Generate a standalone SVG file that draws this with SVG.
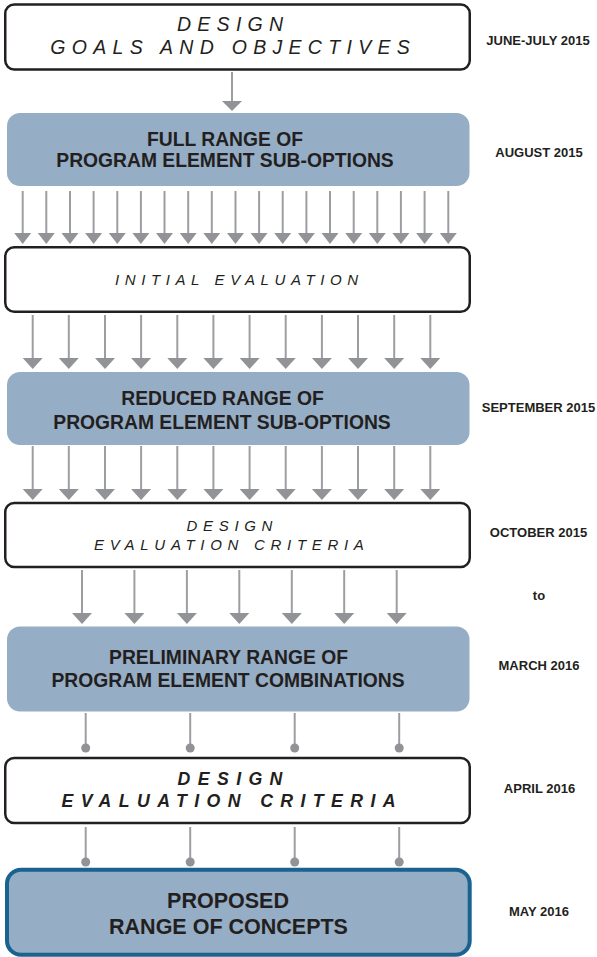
<svg xmlns="http://www.w3.org/2000/svg" width="597" height="957" viewBox="0 0 597 957">
<style>
.wbox{fill:#fff;stroke:#231f20;stroke-width:2.5}
.bbox{fill:#95adc5;stroke:none}
.fbox{fill:#95adc5;stroke:#1a6391;stroke-width:4}
.stem{stroke:#9d9ea2;stroke-width:2;fill:none}
.head{fill:#929397}
.dot{fill:#929397}
.it{font-family:"Liberation Sans",Arial,sans-serif;font-style:italic;fill:#231f20;text-anchor:middle}
.bt{font-family:"Liberation Sans",Arial,sans-serif;font-weight:bold;fill:#231f20;text-anchor:middle}
.dt{font-family:"Liberation Sans",Arial,sans-serif;font-weight:bold;font-size:13px;fill:#231f20;text-anchor:middle}
</style>
<defs>
<g id="a1"><line class="stem" x1="0" y1="0" x2="0" y2="30"/><polygon class="head" points="-10,29 10,29 0,39"/></g>
<g id="a2"><line class="stem" x1="0" y1="0" x2="0" y2="43"/><polygon class="head" points="-8.5,42 8.5,42 0,53"/></g>
<g id="a3"><line class="stem" x1="0" y1="0" x2="0" y2="44"/><polygon class="head" points="-10,43 10,43 0,54"/></g>
<g id="c1"><line class="stem" x1="0" y1="0" x2="0" y2="35"/><circle class="dot" cx="0" cy="35" r="4.5"/></g>
</defs>

<g id="connectors">
<use href="#a1" x="232" y="72"/>
<use href="#a2" x="22.7" y="191"/><use href="#a2" x="46.3" y="191"/><use href="#a2" x="70" y="191"/><use href="#a2" x="93.6" y="191"/><use href="#a2" x="117.3" y="191"/><use href="#a2" x="140.9" y="191"/><use href="#a2" x="164.5" y="191"/><use href="#a2" x="188.2" y="191"/><use href="#a2" x="211.8" y="191"/><use href="#a2" x="235.5" y="191"/><use href="#a2" x="259.1" y="191"/><use href="#a2" x="282.7" y="191"/><use href="#a2" x="306.4" y="191"/><use href="#a2" x="330" y="191"/><use href="#a2" x="353.7" y="191"/><use href="#a2" x="377.3" y="191"/><use href="#a2" x="400.9" y="191"/><use href="#a2" x="424.6" y="191"/><use href="#a2" x="448.3" y="191"/>
<use href="#a3" x="32.7" y="315"/><use href="#a3" x="68.8" y="315"/><use href="#a3" x="105" y="315"/><use href="#a3" x="141.1" y="315"/><use href="#a3" x="177.3" y="315"/><use href="#a3" x="213.4" y="315"/><use href="#a3" x="249.6" y="315"/><use href="#a3" x="285.7" y="315"/><use href="#a3" x="321.9" y="315"/><use href="#a3" x="358" y="315"/><use href="#a3" x="394.2" y="315"/><use href="#a3" x="430.3" y="315"/>
<use href="#a3" x="32.7" y="446"/><use href="#a3" x="68.8" y="446"/><use href="#a3" x="105" y="446"/><use href="#a3" x="141.1" y="446"/><use href="#a3" x="177.3" y="446"/><use href="#a3" x="213.4" y="446"/><use href="#a3" x="249.6" y="446"/><use href="#a3" x="285.7" y="446"/><use href="#a3" x="321.9" y="446"/><use href="#a3" x="358" y="446"/><use href="#a3" x="394.2" y="446"/><use href="#a3" x="430.3" y="446"/>
<use href="#a3" x="82" y="570"/><use href="#a3" x="134.4" y="570"/><use href="#a3" x="186.9" y="570"/><use href="#a3" x="239.3" y="570"/><use href="#a3" x="291.8" y="570"/><use href="#a3" x="344.2" y="570"/><use href="#a3" x="396.7" y="570"/>
<use href="#c1" x="85.7" y="713"/><use href="#c1" x="190.2" y="713"/><use href="#c1" x="294.7" y="713"/><use href="#c1" x="399.2" y="713"/>
<use href="#c1" x="85.7" y="827"/><use href="#c1" x="190.2" y="827"/><use href="#c1" x="294.7" y="827"/><use href="#c1" x="399.2" y="827"/>
</g>

<g id="n1">
<rect class="wbox" x="5.25" y="4.6" width="464.5" height="64.8" rx="9"/>
<text class="it" font-size="19.5" letter-spacing="6.3" x="233.2" y="31">DESIGN</text>
<text class="it" font-size="19.5" letter-spacing="6.3" x="233.2" y="54">GOALS AND OBJECTIVES</text>
</g>
<g id="n2">
<rect class="bbox" x="7" y="113" width="462.5" height="73" rx="13"/>
<text class="bt" font-size="19.3" x="225" y="146">FULL RANGE OF</text>
<text class="bt" font-size="19.3" x="225" y="167">PROGRAM ELEMENT SUB-OPTIONS</text>
</g>
<g id="n3">
<rect class="wbox" x="5.25" y="247.25" width="464.5" height="64.5" rx="9"/>
<text class="it" font-size="15" letter-spacing="5.6" x="239.3" y="284.5">INITIAL EVALUATION</text>
</g>
<g id="n4">
<rect class="bbox" x="7" y="372" width="462.5" height="73" rx="13"/>
<text class="bt" font-size="19.3" x="222.5" y="405">REDUCED RANGE OF</text>
<text class="bt" font-size="19.3" x="222" y="429">PROGRAM ELEMENT SUB-OPTIONS</text>
</g>
<g id="n5">
<rect class="wbox" x="5.25" y="502.9" width="464.5" height="64" rx="9"/>
<text class="it" font-size="15" letter-spacing="5.7" x="232.3" y="531">DESIGN</text>
<text class="it" font-size="15" letter-spacing="5.7" x="231.8" y="550">EVALUATION CRITERIA</text>
</g>
<g id="n6">
<rect class="bbox" x="7" y="626.5" width="462.5" height="85" rx="13"/>
<text class="bt" font-size="19.3" x="228.5" y="664">PRELIMINARY RANGE OF</text>
<text class="bt" font-size="19.3" x="228" y="687">PROGRAM ELEMENT COMBINATIONS</text>
</g>
<g id="n7">
<rect class="wbox" x="5.25" y="757.9" width="464.5" height="65" rx="9"/>
<text class="it" font-weight="bold" font-size="17.7" letter-spacing="7.4" x="233.7" y="785">DESIGN</text>
<text class="it" font-weight="bold" font-size="17.7" letter-spacing="7.4" x="232.2" y="807">EVALUATION CRITERIA</text>
</g>
<g id="n8">
<rect class="fbox" x="7" y="869.7" width="462.7" height="85" rx="14"/>
<text class="bt" font-size="21.5" x="228" y="908">PROPOSED</text>
<text class="bt" font-size="21.5" x="228.5" y="934">RANGE OF CONCEPTS</text>
</g>

<g id="dates">
<text class="dt" x="538" y="45">JUNE-JULY 2015</text>
<text class="dt" x="539" y="157">AUGUST 2015</text>
<text class="dt" x="538.5" y="412">SEPTEMBER 2015</text>
<text class="dt" x="538.5" y="537">OCTOBER 2015</text>
<text class="dt" x="539" y="600">to</text>
<text class="dt" x="539" y="670">MARCH 2016</text>
<text class="dt" x="539.5" y="793">APRIL 2016</text>
<text class="dt" x="539" y="916">MAY 2016</text>
</g>
</svg>
